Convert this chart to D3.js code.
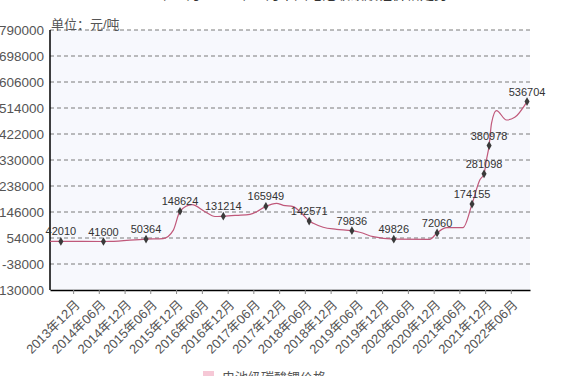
<!DOCTYPE html>
<html>
<head>
<meta charset="utf-8">
<script src="https://cdn.jsdelivr.net/npm/d3@7"></script>
<style>
  body { margin: 0; background: #fff; }
  svg { display: block; font-family: Arial, "Liberation Sans", "Noto Sans CJK SC", sans-serif; }
</style>
</head>
<body>
<svg width="562" height="376"></svg>
<script>
// 数据
const dates = ["2013-06-20", "2013-09-05", "2014-07-04", "2014-08-20", "2015-05-02", "2015-08-31",
  "2015-11-12", "2015-12-29", "2016-03-23", "2016-06-23", "2016-09-02", "2016-10-31",
  "2017-02-03", "2017-05-08", "2017-06-25", "2017-08-29", "2017-11-13", "2017-12-30",
  "2018-03-11", "2018-05-09", "2018-07-02", "2018-07-31", "2018-10-09", "2019-01-12",
  "2019-05-01", "2019-06-26", "2019-09-29", "2020-02-22", "2020-11-03", "2020-12-25",
  "2021-03-02", "2021-06-27", "2021-08-30", "2021-10-24", "2021-11-23", "2021-12-10",
  "2021-12-29", "2022-01-15", "2022-02-19", "2022-05-01", "2022-06-29", "2022-09-24"];
const prices = [42010, 42010, 41600, 41800, 50364, 52000,
  82000, 148624, 171800, 147000, 130000, 131214,
  134300, 137900, 147000, 165949, 176800, 169700,
  164800, 141400, 114000, 106000, 91900, 84800,
  79836, 74200, 58600, 49826, 49400, 72060,
  90400, 90400, 174155, 259200, 281098, 330000,
  380978, 459900, 505000, 471500, 481000, 536704];
// 标注文字（空字符串 = 不标注）
const pointLabels = ["", "42010", "41600", "", "50364", "",
  "", "148624", "", "", "", "131214",
  "", "", "", "165949", "", "",
  "", "", "142571", "", "", "",
  "79836", "", "", "49826", "", "72060",
  "", "", "174155", "", "281098", "",
  "380978", "", "", "", "", "536704"];
const tickLabels = ["2013年12月", "2014年06月", "2014年12月", "2015年06月", "2015年12月",
  "2016年06月", "2016年12月", "2017年06月", "2017年12月", "2018年06月", "2018年12月",
  "2019年06月", "2019年12月", "2020年06月", "2020年12月", "2021年06月", "2021年12月",
  "2022年06月"];
const yTicks = [-130000, -38000, 54000, 146000, 238000, 330000, 422000, 514000, 606000, 698000, 790000];
const xStart = "2013-06-20", xEnd = "2022-10-15";
const seriesName = "电池级碳酸锂价格";
const title = "2013年12月-2022年06月中国电池级碳酸锂价格走势";
const unit = "单位：元/吨";

let svg = d3.select("svg");
const margin = { left: 50, right: 32, top: 30, bottom: 86 };
const width = +svg.attr("width"), height = +svg.attr("height");

const parseDay = d3.timeParse("%Y-%m-%d");
const parseTick = d3.timeParse("%Y年%m月");
const data = dates.map((d, i) => ({ date: parseDay(d), value: prices[i], label: pointLabels[i] }));

const x = d3.scaleTime()
  .domain([parseDay(xStart), parseDay(xEnd)])
  .range([margin.left, width - margin.right]);
const y = d3.scaleLinear()
  .domain([yTicks[0], yTicks[yTicks.length - 1]])
  .range([height - margin.bottom, margin.top]);

// 背景
svg.append("rect")
  .attr("x", margin.left).attr("y", margin.top)
  .attr("width", width - margin.left - margin.right)
  .attr("height", height - margin.top - margin.bottom)
  .attr("fill", "#f7f8fd");

// 标题（只露出底部）
svg.append("text")
  .attr("x", 287).attr("y", -1)
  .attr("text-anchor", "middle")
  .style("font-size", "14px")
  .attr("fill", "#333")
  .text(title);

// 网格线
svg.append("g")
  .selectAll("line")
  .data(yTicks.slice(1))
  .enter().append("line")
  .attr("x1", margin.left).attr("x2", width - margin.right)
  .attr("y1", d => y(d)).attr("y2", d => y(d))
  .attr("stroke", "#7a7a7a")
  .attr("stroke-dasharray", "4,3");

// Y轴文字
svg.append("g")
  .selectAll("text")
  .data(yTicks)
  .enter().append("text")
  .attr("x", margin.left - 6)
  .attr("y", d => y(d))
  .attr("dy", "0.35em")
  .attr("text-anchor", "end")
  .style("font-size", "13.5px")
  .attr("fill", "#555")
  .text(d => d);

svg.append("text")
  .attr("x", margin.left + 1).attr("y", margin.top - 1)
  .style("font-size", "13px")
  .attr("fill", "#555")
  .text(unit);

// X轴
const xAxis = d3.axisBottom(x)
  .tickValues(tickLabels.map(parseTick))
  .tickFormat(d3.timeFormat("%Y年%m月"))
  .tickSize(4)
  .tickSizeOuter(0);
const gx = svg.append("g")
  .attr("transform", "translate(0," + (height - margin.bottom) + ")")
  .call(xAxis);
gx.select(".domain").attr("stroke", "#000").attr("stroke-width", 1.5);
gx.selectAll(".tick line").attr("stroke", "#888");
gx.selectAll(".tick text")
  .style("font-size", "13px")
  .style("font-family", "Arial, 'Liberation Sans', 'Noto Sans CJK SC', sans-serif")
  .attr("fill", "#555")
  .attr("text-anchor", "end")
  .attr("x", -6)
  .attr("y", 16)
  .attr("dy", 0)
  .attr("transform", "rotate(-45)");

// Y轴线
svg.append("line")
  .attr("x1", margin.left).attr("x2", margin.left)
  .attr("y1", margin.top).attr("y2", height - margin.bottom)
  .attr("stroke", "#000").attr("stroke-width", 1.5);

// 折线
const line = d3.line()
  .x(d => x(d.date))
  .y(d => y(d.value))
  .curve(d3.curveMonotoneX);
svg.append("path")
  .datum(data)
  .attr("d", line)
  .attr("fill", "none")
  .attr("stroke", "#c0587a")
  .attr("stroke-width", 1.2);

// 标注点
const marked = data.filter(d => d.label !== "");
svg.append("g")
  .selectAll("path")
  .data(marked)
  .enter().append("path")
  .attr("d", d3.symbol().type(d3.symbolDiamond).size(22))
  .attr("transform", d => "translate(" + x(d.date) + "," + y(d.value) + ")")
  .attr("fill", "#3a3a3a");

svg.append("g")
  .selectAll("text")
  .data(marked)
  .enter().append("text")
  .attr("x", d => x(d.date))
  .attr("y", d => y(d.value) - 6)
  .attr("text-anchor", "middle")
  .style("font-size", "11px")
  .attr("fill", "#333")
  .text(d => d.label);

// 图例
svg.append("rect")
  .attr("x", 203).attr("y", 371)
  .attr("width", 11).attr("height", 8)
  .attr("fill", "#f6c8d6");
svg.append("text")
  .attr("x", 222).attr("y", 382)
  .style("font-size", "13px")
  .attr("fill", "#555")
  .text(seriesName);
</script>
</body>
</html>
